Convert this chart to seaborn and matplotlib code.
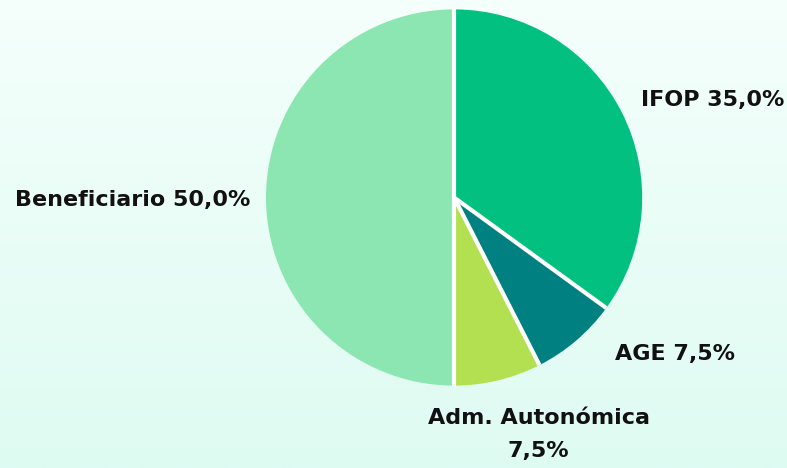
import numpy as np
import matplotlib
matplotlib.use("Agg")
import matplotlib.pyplot as plt
import seaborn as sns

sns.set_theme(style="white")
plt.rcParams['font.family'] = ['DejaVu Sans']

# data
categorias = ["IFOP", "AGE", "Adm. Autonómica", "Beneficiario"]
valores = [35.0, 7.5, 7.5, 50.0]
colores = ["#02C080", "#008080", "#B3E050", "#8CE6B1"]

def fmt(v):
    return f"{v:.1f}%".replace(".", ",")

etiquetas = [f"{c} {fmt(v)}" if c != "Adm. Autonómica" else f"{c}\n{fmt(v)}"
             for c, v in zip(categorias, valores)]

fig = plt.figure(figsize=(7.87, 4.68), dpi=100)

# gradient background
bg = fig.add_axes([0, 0, 1, 1], zorder=-1)
grad = np.linspace(0, 1, 256).reshape(-1, 1)
cmap = matplotlib.colors.LinearSegmentedColormap.from_list("bg", ["#F5FFFC", "#DEFBF2"])
bg.imshow(grad, aspect="auto", cmap=cmap, extent=[0, 1, 0, 1])
bg.axis("off")

ax = fig.add_axes([0.577 - 0.239, 0.578 - 0.402, 0.478, 0.804])
wedges, texts = ax.pie(valores, labels=etiquetas, colors=colores, startangle=90,
                       counterclock=False,
                       wedgeprops=dict(linewidth=0),
                       textprops=dict(fontsize=16, fontweight="bold", color="#111111"))

# white separators between slices
for w in wedges:
    a = np.deg2rad(w.theta1)
    ax.plot([0, np.cos(a)], [0, np.sin(a)], color="white", lw=3, solid_capstyle="butt")

# label placement
pos = [(1.376, 0.519, "center"), (1.175, -0.831, "center"),
       (0.45, -1.26, "center"), (-1.085, -0.011, "right")]
for t, (x, y, ha) in zip(texts, pos):
    t.set_position((x, y))
    t.set_ha(ha)
    t.set_va("center")
    t.set_multialignment("center")
    t.set_linespacing(1.85)

ax.set_xlim(-1, 1)
ax.set_ylim(-1, 1)
ax.set_aspect("equal")

fig.savefig("out.png", dpi=100)
